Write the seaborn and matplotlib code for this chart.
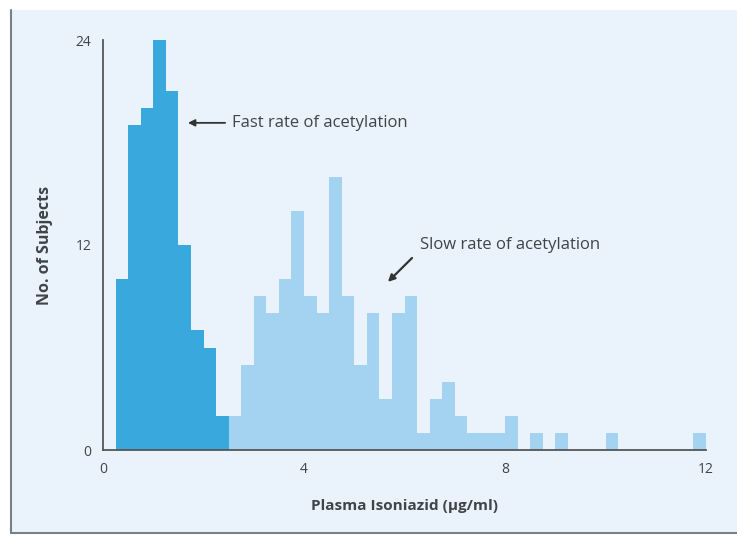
import numpy as np
import pandas as pd
import seaborn as sns
import matplotlib.pyplot as plt
from matplotlib.patches import Rectangle
from matplotlib.lines import Line2D

# bins are 0.25 ug/ml wide, starting at 0.25
bin_width = 0.25
fast_counts = [10, 19, 20, 24, 21, 12, 7, 6, 2]          # 0.25 .. 2.5
slow_counts = [2, 5, 9, 8, 10, 14, 9, 8, 16, 9, 5, 8, 3, 8, 9,
               1, 3, 4, 2, 1, 1, 1, 2, 0, 1, 0, 1, 0, 0, 0,
               1, 0, 0, 0, 0, 0, 0, 1]                      # 2.5 .. 12.0
fast_start = 0.25
slow_start = 2.5

x_ticks = [0, 4, 8, 12]
y_ticks = [0, 12, 24]

fast_left = fast_start + bin_width * np.arange(len(fast_counts))
slow_left = slow_start + bin_width * np.arange(len(slow_counts))
df = pd.DataFrame({
    'left': np.concatenate([fast_left, slow_left]),
    'count': fast_counts + slow_counts,
    'group': ['fast'] * len(fast_counts) + ['slow'] * len(slow_counts),
})
df['center'] = df['left'] + bin_width / 2
edges = [float(e) for e in np.arange(fast_start, 12.0 + 1e-9, bin_width)]

bg = '#eaf3fb'
txt = '#3f4449'
sns.set_style('white')
plt.rcParams['font.family'] = ['Open Sans', 'DejaVu Sans']

fig = plt.figure(figsize=(7.37, 5.36), dpi=100)
fig.patch.set_facecolor('white')
# light blue panel with a grey edge on the left and bottom only
fig.patches.append(Rectangle((11 / 737, 3 / 536), 1.0, 1 - 13 / 536,
                             transform=fig.transFigure, facecolor=bg,
                             edgecolor='none', zorder=-10))
fig.lines.append(Line2D([11 / 737, 11 / 737], [3 / 536, 1 - 10 / 536],
                        transform=fig.transFigure, color='#7a7f86', lw=1.5))
fig.lines.append(Line2D([11 / 737, 1.0], [3 / 536, 3 / 536],
                        transform=fig.transFigure, color='#7a7f86', lw=1.5))

ax = fig.add_axes([103 / 737, 1 - 450 / 536, 603 / 737, 410 / 536])
ax.patch.set_alpha(0)

sns.histplot(data=df, x='center', weights='count', bins=edges, hue='group',
             palette={'fast': '#39a8dc', 'slow': '#a3d3f1'}, alpha=1,
             linewidth=0, legend=False, ax=ax)

ax.set_xlim(0, 12)
ax.set_ylim(0, 24)
ax.set_xticks(x_ticks)
ax.set_xticks(range(0, 13), minor=True)
ax.set_yticks(y_ticks)
ax.set_yticks(range(0, 25, 4), minor=True)
ax.tick_params(axis='both', which='both', direction='out', color='#555555',
               width=1.2, labelsize=10, labelcolor=txt)
ax.tick_params(axis='both', which='major', length=5)
ax.tick_params(axis='both', which='minor', length=3)
for side in ['top', 'right']:
    ax.spines[side].set_visible(False)
for side in ['left', 'bottom']:
    ax.spines[side].set_color('#555555')
    ax.spines[side].set_linewidth(1.3)

ax.set_xlabel('Plasma Isoniazid (μg/ml)', fontsize=11, fontweight='bold',
              color=txt, labelpad=16)
ax.set_ylabel('No. of Subjects', fontsize=11.5, fontweight='bold',
              color=txt, labelpad=16)

ax.text(2.57, 19.15, 'Fast rate of acetylation', fontsize=12, color=txt,
        va='center', ha='left')
ax.annotate('', xy=(1.69, 19.15), xytext=(2.43, 19.15),
            arrowprops=dict(arrowstyle='-|>', color='#333333', lw=1.3,
                            mutation_scale=10, shrinkA=0, shrinkB=0))
ax.text(6.31, 12.0, 'Slow rate of acetylation', fontsize=12, color=txt,
        va='center', ha='left')
ax.annotate('', xy=(5.67, 9.84), xytext=(6.15, 11.24),
            arrowprops=dict(arrowstyle='-|>', color='#333333', lw=1.6,
                            mutation_scale=10, shrinkA=0, shrinkB=0))

fig.savefig('out.png', dpi=100, facecolor=fig.get_facecolor())
